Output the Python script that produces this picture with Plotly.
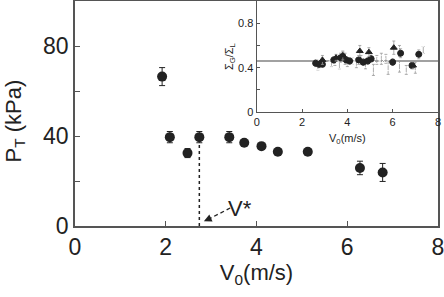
import plotly.graph_objects as go

# Main panel data
v0 = [1.92, 2.09, 2.48, 2.74, 3.40, 3.73, 4.11, 4.47, 5.13, 6.28, 6.78]
pt = [66.4, 39.5, 32.4, 39.5, 39.5, 37.0, 35.5, 33.0, 33.0, 25.8, 23.8]
pt_err = [4.0, 2.5, 2.0, 2.5, 2.5, 1.0, 1.0, 1.0, 1.0, 3.0, 4.0]
v_star = 2.74

# Inset data (Sigma_G / Sigma_L)
ins_circ_x = [2.6, 2.75, 2.9, 3.4, 3.7, 3.8, 3.95, 4.1, 4.5, 4.7, 4.9, 5.05, 6.0, 6.35, 6.85, 7.15]
ins_circ_y = [0.44, 0.43, 0.43, 0.47, 0.49, 0.50, 0.47, 0.46, 0.47, 0.45, 0.46, 0.48, 0.45, 0.53, 0.42, 0.52]
ins_circ_e = [0.03, 0.03, 0.02, 0.03, 0.04, 0.04, 0.03, 0.03, 0.04, 0.03, 0.03, 0.03, 0.03, 0.04, 0.03, 0.04]
ins_tri_x = [2.9, 3.5, 3.8, 4.55, 4.95, 6.05, 6.9]
ins_tri_y = [0.47, 0.49, 0.51, 0.55, 0.54, 0.58, 0.42]
ins_tri_e = [0.04, 0.03, 0.04, 0.05, 0.04, 0.06, 0.03]
ins_ocirc_x = [2.7, 3.3, 3.65, 4.0, 4.4, 4.8, 5.15, 5.8, 6.3, 6.6, 7.0]
ins_ocirc_y = [0.41, 0.44, 0.42, 0.45, 0.44, 0.43, 0.38, 0.40, 0.41, 0.38, 0.40]
ins_ocirc_e = [0.03, 0.03, 0.03, 0.04, 0.04, 0.04, 0.05, 0.06, 0.05, 0.04, 0.05]
ins_dia_x = [2.65, 3.45, 3.9, 4.2, 4.6, 5.3, 5.5, 5.7, 6.3, 7.35]
ins_dia_y = [0.44, 0.46, 0.48, 0.46, 0.47, 0.47, 0.48, 0.48, 0.55, 0.56]
ins_dia_e = [0.03, 0.04, 0.05, 0.03, 0.04, 0.04, 0.05, 0.04, 0.05, 0.03]
ins_ref = 0.46

FONT = "Liberation Sans, Arial, sans-serif"
DARK = "#222222"
AX = "#555555"

fig = go.Figure()

# main vertical dashed line at V*
fig.add_trace(go.Scatter(x=[v_star, v_star], y=[0, 36.5], mode="lines",
                         line=dict(color=DARK, width=1.5, dash="3px,3px"),
                         showlegend=False, hoverinfo="skip"))
fig.add_trace(go.Scatter(x=v0, y=pt, mode="markers",
                         marker=dict(size=10, color=DARK),
                         error_y=dict(type="data", array=pt_err, color=DARK, thickness=1, width=3),
                         showlegend=False))

# inset traces
def ins(x, y, e, sym, fill):
    fig.add_trace(go.Scatter(x=x, y=y, mode="markers", xaxis="x2", yaxis="y2",
                             marker=dict(size=6, symbol=sym,
                                         color=DARK if fill else "white",
                                         line=dict(color=DARK, width=1)),
                             error_y=dict(type="data", array=e, color="#999999", thickness=0.8, width=1.5),
                             showlegend=False))

fig.add_trace(go.Scatter(x=[0, 8], y=[ins_ref, ins_ref], mode="lines", xaxis="x2", yaxis="y2",
                         line=dict(color="#444444", width=1.2), showlegend=False, hoverinfo="skip"))
ins(ins_ocirc_x, ins_ocirc_y, ins_ocirc_e, "circle-open", False)
ins(ins_dia_x, ins_dia_y, ins_dia_e, "diamond-open", False)
ins(ins_circ_x, ins_circ_y, ins_circ_e, "circle", True)
ins(ins_tri_x, ins_tri_y, ins_tri_e, "triangle-up", True)

# V* annotation: dashed tail + arrow head
fig.add_shape(type="line", x0=3.42, y0=8.0, x1=2.98, y1=3.4, xref="x", yref="y",
              line=dict(color=DARK, width=1.3, dash="4px,3px"))
fig.add_annotation(x=2.84, y=2.1, ax=2.98, ay=3.4, axref="x", ayref="y", xref="x", yref="y",
                   text=" ", showarrow=True, arrowhead=2, arrowsize=1.2, arrowwidth=1.3,
                   arrowcolor=DARK)
fig.add_annotation(x=3.64, y=8.0, xref="x", yref="y", text="V*", showarrow=False,
                   font=dict(size=22, color=DARK, family=FONT))

# main y-axis title placed as rotated text
fig.add_annotation(x=-0.165, y=0.465, xref="paper", yref="paper", xanchor="center", yanchor="middle",
                   text="P<sub>T</sub> (kPa)", textangle=-90, showarrow=False,
                   font=dict(size=22, color=DARK, family=FONT))

common = dict(showline=True, linecolor=AX, showgrid=False, zeroline=False,
              tickcolor=AX, ticks="inside", automargin=False, ticklabeloverflow="allow")

fig.update_layout(
    width=444, height=297,
    margin=dict(l=75, r=6, t=1, b=71, autoexpand=False),
    paper_bgcolor="white", plot_bgcolor="white",
    font=dict(family=FONT, color=DARK),
    xaxis=dict(range=[0, 8], tickvals=[0, 2, 4, 6, 8], ticklen=5, linewidth=1.5, mirror=True,
               tickfont=dict(size=23),
               title=dict(text="V<sub>0</sub>(m/s)", font=dict(size=22), standoff=2), **common),
    yaxis=dict(range=[0, 100], tickvals=[0, 40, 80], ticklen=5, linewidth=1.5, mirror=True,
               minor=dict(tickvals=[20, 60], ticks="inside", ticklen=5, tickcolor=AX),
               tickfont=dict(size=23), **common),
    xaxis2=dict(domain=[0.5006, 1.0], anchor="y2", range=[0, 8], tickvals=[0, 2, 4, 6, 8],
                ticklen=3, linewidth=1.2, tickfont=dict(size=11),
                title=dict(text="V<sub>0</sub>(m/s)", font=dict(size=11), standoff=6), **common),
    yaxis2=dict(domain=[0.506, 1.0], anchor="x2", range=[0, 1],
                tickvals=[0, 0.4, 0.8], ticklen=3, linewidth=1.2,
                minor=dict(tickvals=[0.2, 0.6], ticks="inside", ticklen=3, tickcolor=AX),
                tickfont=dict(size=11),
                title=dict(text="Σ<sub>G</sub>/Σ<sub>L</sub>", font=dict(size=11), standoff=2), **common),
)

fig.write_html("out.html", config={"displayModeBar": False},
               post_script="document.body.style.margin='0';document.body.style.padding='0';"
                           "document.body.style.overflow='hidden';")
